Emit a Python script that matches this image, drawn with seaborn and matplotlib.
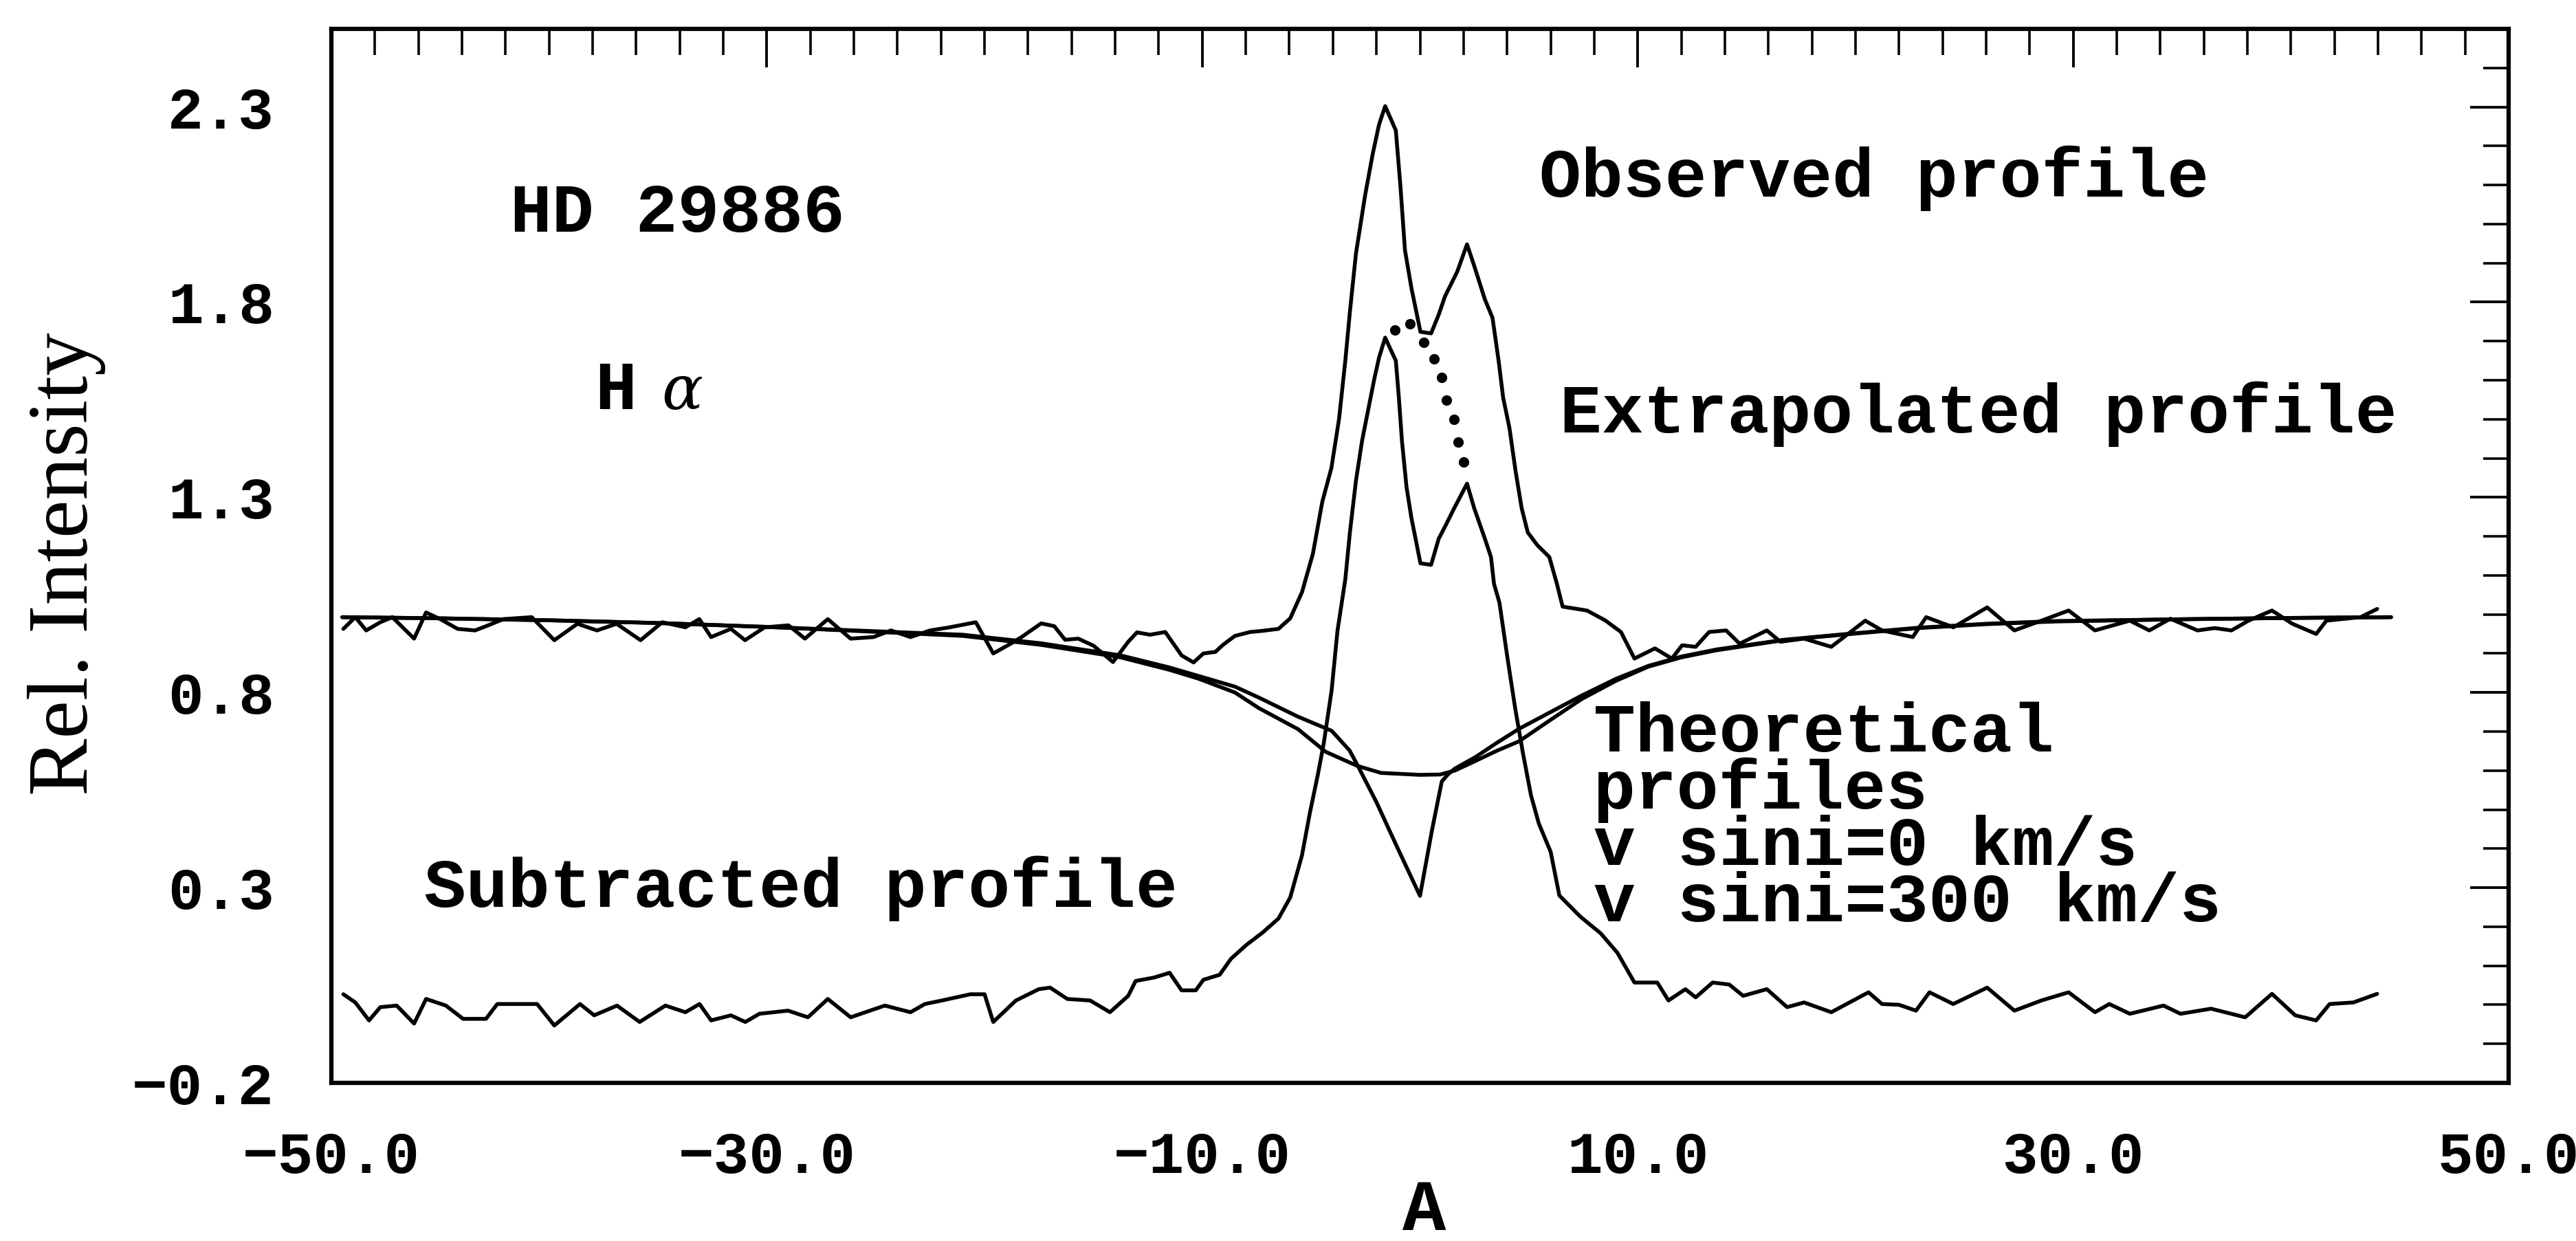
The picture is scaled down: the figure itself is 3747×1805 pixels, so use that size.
import numpy as np
import pandas as pd
import matplotlib
matplotlib.use("Agg")
import matplotlib.pyplot as plt
import seaborn as sns
from matplotlib.ticker import FixedLocator, MultipleLocator, FixedFormatter

# ---------------- data ----------------
obs_x = [-49.45, -48.9, -48.4, -47.75, -47.2, -46.2, -45.65, -45.0, -44.2, -43.4, -42.8, -42.1,
         -40.8, -39.76, -38.7, -37.8, -36.9, -35.8, -34.8, -33.74, -33.1, -32.56, -31.65, -31.0,
         -30.1, -29.0, -28.25, -27.2, -26.15, -25.1, -24.3, -23.4, -22.5, -21.6, -20.4, -19.6,
         -18.8, -18.3, -17.4, -16.8, -16.3, -15.7, -15.0, -14.1, -13.4, -13.0, -12.4, -11.7,
         -10.95, -10.4, -9.95, -9.4, -9.05, -8.5, -7.8, -7.23, -6.5, -5.96, -5.42, -4.92, -4.49,
         -4.07, -3.72, -3.43, -3.22, -2.94, -2.52, -2.17, -1.88, -1.60, -1.11, -0.90, -0.69,
         -0.40, 0.02, 0.51, 0.86, 1.15, 1.71, 2.16, 2.49, 2.98, 3.33, 3.61, 3.82, 4.11, 4.39,
         4.67, 4.95, 5.38, 5.94, 6.29, 6.55, 7.67, 8.5, 9.23, 9.85, 10.79, 11.57, 12.04, 12.66,
         13.28, 14.06, 14.68, 15.93, 16.55, 17.64, 18.89, 20.45, 21.22, 22.63, 23.25, 24.5,
         26.05, 27.3, 28.54, 29.79, 31.0, 32.6, 33.5, 34.46, 35.71, 36.5, 37.27, 38.05, 39.13,
         40.07, 41.16, 41.63, 43.2, 43.96]
obs_y = [0.963, 0.993, 0.959, 0.980, 0.993, 0.938, 1.005, 0.988, 0.963, 0.959, 0.972, 0.988,
         0.993, 0.934, 0.976, 0.959, 0.976, 0.934, 0.980, 0.967, 0.988, 0.942, 0.963, 0.934,
         0.967, 0.972, 0.938, 0.988, 0.938, 0.942, 0.959, 0.942, 0.959, 0.967, 0.980, 0.900,
         0.925, 0.942, 0.977, 0.970, 0.935, 0.938, 0.920, 0.878, 0.930, 0.954, 0.948, 0.955,
         0.895, 0.877, 0.900, 0.904, 0.922, 0.945, 0.955, 0.958, 0.963, 0.990, 1.057, 1.155,
         1.288, 1.375, 1.500, 1.650, 1.775, 1.925, 2.074, 2.180, 2.255, 2.302, 2.240, 2.098,
         1.933, 1.838, 1.724, 1.720, 1.768, 1.815, 1.878, 1.948, 1.893, 1.807, 1.760, 1.650,
         1.555, 1.477, 1.367, 1.272, 1.210, 1.178, 1.147, 1.078, 1.020, 1.010, 0.985, 0.955,
         0.887, 0.913, 0.887, 0.921, 0.917, 0.955, 0.959, 0.925, 0.959, 0.930, 0.938, 0.917,
         0.984, 0.959, 0.942, 0.993, 0.967, 1.018, 0.959, 0.984, 1.010, 0.959, 0.984, 0.959,
         0.989, 0.959, 0.965, 0.959, 0.984, 1.010, 0.976, 0.950, 0.984, 0.993, 1.014]

sub_x = [-49.45, -48.9, -48.27, -47.75, -47.0, -46.2, -45.65, -44.74, -43.95, -42.9, -42.38,
         -40.55, -39.76, -38.58, -37.93, -36.88, -35.84, -34.66, -33.74, -33.09, -32.56, -31.65,
         -30.99, -30.34, -29.03, -28.11, -27.2, -26.15, -24.58, -23.4, -22.74, -21.96, -20.65,
         -20.0, -19.6, -18.56, -17.51, -16.99, -16.2, -15.15, -14.24, -13.4, -13.06, -12.2,
         -11.5, -10.95, -10.3, -9.95, -9.2, -8.68, -7.96, -7.23, -6.5, -5.96, -5.42, -5.06,
         -4.69, -4.42, -4.06, -3.79, -3.43, -3.22, -2.94, -2.66, -2.38, -2.1, -1.88, -1.60,
         -1.11, -0.97, -0.83, -0.62, -0.40, 0.02, 0.51, 0.86, 1.15, 1.57, 2.16, 2.49, 2.98,
         3.26, 3.4, 3.65, 4.0, 4.37, 4.73, 5.1, 5.46, 6.0, 6.4, 7.36, 8.3, 9.07, 9.85, 10.9,
         11.41, 12.19, 12.66, 13.44, 14.2, 14.84, 15.93, 16.86, 17.64, 18.89, 20.6, 21.22,
         22.0, 22.78, 23.4, 24.49, 26.05, 27.3, 28.54, 29.79, 31.0, 31.66, 32.6, 34.15, 34.93,
         36.33, 37.9, 39.13, 40.2, 41.16, 41.78, 42.87, 43.96]
sub_y = [0.027, 0.006, -0.040, -0.006, -0.002, -0.048, 0.015, -0.002, -0.036, -0.036, 0.002,
         0.002, -0.053, 0.002, -0.027, -0.002, -0.044, -0.002, -0.019, 0.002, -0.040, -0.027,
         -0.044, -0.023, -0.015, -0.032, 0.015, -0.032, -0.002, -0.019, 0.002, 0.011, 0.027,
         0.027, -0.044, 0.011, 0.040, 0.044, 0.015, 0.011, -0.019, 0.023, 0.061, 0.070,
         0.082, 0.037, 0.037, 0.064, 0.077, 0.118, 0.154, 0.185, 0.221, 0.275, 0.383, 0.491,
         0.590, 0.670, 0.805, 0.958, 1.090, 1.210, 1.343, 1.445, 1.524, 1.603, 1.658, 1.709,
         1.650, 1.555, 1.445, 1.327, 1.249, 1.131, 1.127, 1.194, 1.225, 1.272, 1.335, 1.272,
         1.194, 1.147, 1.078, 1.030, 0.895, 0.760, 0.644, 0.536, 0.464, 0.392, 0.280, 0.226,
         0.183, 0.133, 0.057, 0.057, 0.011, 0.040, 0.019, 0.057, 0.052, 0.023, 0.040, -0.006,
         0.006, -0.019, 0.032, 0.002, 0.000, -0.015, 0.032, 0.002, 0.044, -0.015, 0.011, 0.032,
         -0.019, 0.002, -0.023, -0.002, -0.023, -0.010, -0.032, 0.028, -0.027, -0.040, 0.002,
         0.006, 0.028]

theo300_x = [-49.5, -45, -40, -35, -30, -26.4, -21.0, -17.4, -13.75, -11.5, -10.15, -8.5, -7.4,
             -5.6, -4.33, -2.88, -1.79, 0.0, 0.93, 1.6, 2.56, 3.5, 4.55, 6.0, 7.42, 9.0, 10.48,
             12.0, 13.6, 16.7, 19.8, 22.9, 26.0, 29.2, 35.4, 40.0, 44.6]
theo300_y = [0.993, 0.990, 0.985, 0.978, 0.968, 0.959, 0.945, 0.922, 0.890, 0.858, 0.835, 0.800,
             0.760, 0.706, 0.648, 0.612, 0.594, 0.589, 0.590, 0.600, 0.625, 0.650, 0.675, 0.730,
             0.783, 0.830, 0.866, 0.890, 0.908, 0.934, 0.950, 0.965, 0.975, 0.982, 0.988,
             0.991, 0.993]

theo0_x = [-49.5, -45, -40, -35, -30, -26.4, -21.0, -17.4, -13.75, -11.5, -10.15, -8.5, -7.4,
           -5.6, -4.06, -3.24, -2.9, -2.0, -1.1, 0.0, 0.55, 1.0, 1.28, 1.6, 2.56, 3.5, 4.55,
           6.0, 7.42, 9.0, 10.48, 12.0, 13.6, 16.7, 19.8, 22.9, 26.0, 29.2, 35.4, 40.0, 44.6]
theo0_y = [0.993, 0.990, 0.985, 0.978, 0.968, 0.960, 0.948, 0.926, 0.895, 0.864, 0.842, 0.815,
           0.787, 0.738, 0.702, 0.652, 0.617, 0.519, 0.410, 0.279, 0.447, 0.572, 0.590, 0.605,
           0.635, 0.670, 0.707, 0.750, 0.792, 0.835, 0.868, 0.892, 0.910, 0.935, 0.951, 0.966,
           0.976, 0.983, 0.988, 0.991, 0.993]

extra_x = [-1.14, -0.45, 0.16, 0.65, 1.00, 1.22, 1.57, 1.74, 2.02]
extra_y = [1.728, 1.744, 1.697, 1.654, 1.607, 1.549, 1.500, 1.441, 1.390]

xtick_vals = [-50, -30, -10, 10, 30, 50]
xtick_labels = ["\u221250.0", "\u221230.0", "\u221210.0", "10.0", "30.0", "50.0"]
ytick_vals = [-0.2, 0.3, 0.8, 1.3, 1.8, 2.3]
ytick_labels = ["\u22120.2", "0.3", "0.8", "1.3", "1.8", "2.3"]

# ---------------- figure ----------------
sns.set_style("white")
plt.rcParams["font.family"] = ["Liberation Mono", "DejaVu Sans Mono", "DejaVu Sans"]
plt.rcParams["mathtext.fontset"] = "dejavuserif"
for key in ["text.color", "axes.labelcolor", "xtick.color", "ytick.color", "axes.edgecolor"]:
    plt.rcParams[key] = "black"

MONO = ["Liberation Mono", "DejaVu Sans Mono", "DejaVu Sans"]

W, H = 3747, 1805
fig = plt.figure(figsize=(W / 100, H / 100), dpi=100)
ax = fig.add_axes([482 / W, 1 - 1575 / H, (3649 - 482) / W, (1575 - 42) / H])

LW = 4.0
sns.lineplot(x=obs_x, y=obs_y, ax=ax, color="black", lw=LW, sort=False, estimator=None)
sns.lineplot(x=sub_x, y=sub_y, ax=ax, color="black", lw=LW, sort=False, estimator=None)
sns.lineplot(x=theo300_x, y=theo300_y, ax=ax, color="black", lw=LW, sort=False, estimator=None)
sns.lineplot(x=theo0_x, y=theo0_y, ax=ax, color="black", lw=LW, sort=False, estimator=None)
sns.scatterplot(x=extra_x, y=extra_y, ax=ax, color="black", s=120, edgecolor="black",
                linewidth=0, zorder=5)

ax.set_xlim(-50, 50)
ax.set_ylim(-0.2, 2.5)

ax.xaxis.set_major_locator(FixedLocator(xtick_vals))
ax.xaxis.set_major_formatter(FixedFormatter(xtick_labels))
ax.xaxis.set_minor_locator(MultipleLocator(2))
ax.yaxis.set_major_locator(FixedLocator(ytick_vals))
ax.yaxis.set_major_formatter(FixedFormatter(ytick_labels))
ax.yaxis.set_minor_locator(MultipleLocator(0.1))

ax.tick_params(which="both", direction="in", top=True, right=True, color="black")
ax.tick_params(which="major", length=40, width=2.8)
ax.tick_params(which="minor", length=27, width=2.6)
ax.tick_params(axis="x", which="major", pad=50, labelsize=62)
ax.tick_params(axis="y", which="major", pad=60, labelsize=62)
for lab in ax.get_xticklabels() + ax.get_yticklabels():
    lab.set_fontweight("bold")
    lab.set_fontfamily(MONO)
    lab.set_color("black")

for sp in ax.spines.values():
    sp.set_visible(True)
    sp.set_linewidth(4.5)
    sp.set_color("black")

ax.set_xlabel("A", fontsize=76, fontweight="bold", family=MONO, va="center", color="black")
ax.xaxis.set_label_coords(0.502, -0.122)
ax.set_ylabel("Rel. Intensity", fontsize=90, family=["Liberation Serif"], va="center",
              color="black")
ax.yaxis.set_label_coords(-0.1216, 0.4925)

TFS = 73
tkw = dict(fontsize=TFS, fontweight="bold", color="black", ha="left", va="baseline",
           family=MONO)
ax.text(-41.8, 1.98, "HD 29886", **tkw)
ax.text(-37.9, 1.526, "H", **tkw)
ax.text(-34.85, 1.526, "\u03b1", fontsize=64, style="italic", family=["DejaVu Serif"],
        color="black", ha="left", va="baseline")
ax.text(5.48, 2.07, "Observed profile", **tkw)
ax.text(6.43, 1.466, "Extrapolated profile", **tkw)
ax.text(-45.74, 0.25, "Subtracted profile", **tkw)
# multi-line block: with va="baseline" the last line's baseline sits at y
ax.text(7.97, 0.214, "Theoretical\nprofiles\nv sini=0 km/s\nv sini=300 km/s",
        linespacing=0.84, **tkw)

fig.savefig("out.png", dpi=100, facecolor="white")
